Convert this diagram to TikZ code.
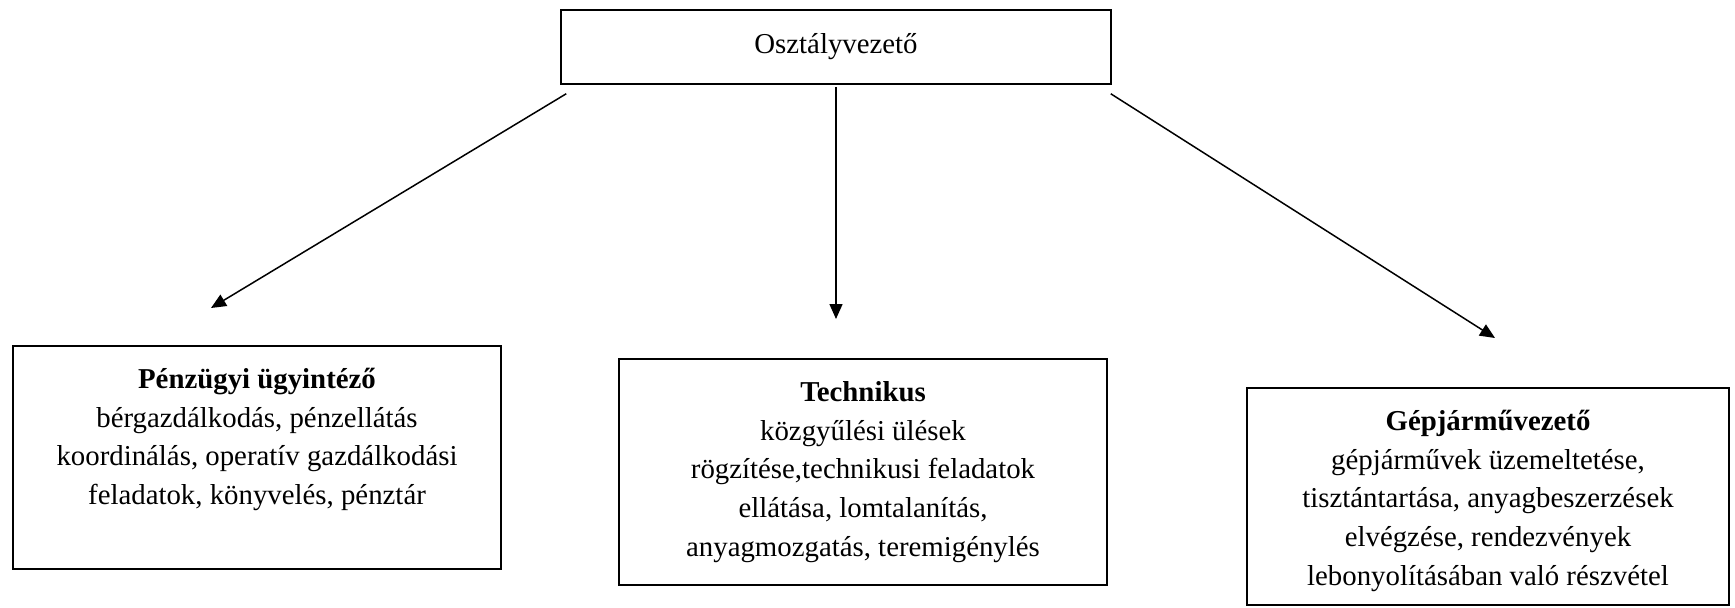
\documentclass[tikz,border=0pt]{standalone}
\usepackage{fontspec}
\setmainfont{Liberation Serif}
\usetikzlibrary{arrows.meta}

\begin{document}
\begin{tikzpicture}[
        box/.style={draw, line width=0.3mm, inner sep=0pt},
        txt/.style={anchor=north, align=center, inner sep=0pt, font=\fontsize{16.4}{22}\selectfont},
        arr/.style={line width=0.3mm, -{Triangle[length=0.3cm, width=0.26cm]}}
    ]
        \useasboundingbox (0.0, 0.0) rectangle (34.7, 12.14);

        \node[box, minimum width=11.0cm, minimum height=1.48cm, font=\fontsize{16.4}{22}\selectfont] (boss) at (16.72, 11.2) {Osztályvezető};

        \node[box, minimum width=9.76cm, minimum height=4.46cm] (finance) at (5.14, 2.99) {};
        \node[box, minimum width=9.76cm, minimum height=4.52cm] (tech) at (17.26, 2.70) {};
        \node[box, minimum width=9.64cm, minimum height=4.34cm] (driver) at (29.76, 2.21) {};

        \node[txt] (financetext) at ([yshift=-0.32cm]finance.north) {\strut\textbf{Pénzügyi ügyintéző}\\ bérgazdálkodás, pénzellátás\\ koordinálás, operatív gazdálkodási\\ feladatok, könyvelés, pénztár};
        \node[txt] (techtext) at ([yshift=-0.32cm]tech.north) {\strut\textbf{Technikus}\\ közgyűlési ülések\\ rögzítése,technikusi feladatok\\ ellátása, lomtalanítás,\\ anyagmozgatás, teremigénylés};
        \node[txt] (drivertext) at ([yshift=-0.32cm]driver.north) {\strut\textbf{Gépjárművezető}\\ gépjárművek üzemeltetése,\\ tisztántartása, anyagbeszerzések\\ elvégzése, rendezvények\\ lebonyolításában való részvétel};

        \coordinate (financetip) at (4.22, 5.98);
        \coordinate (techtip) at (16.72, 5.76);
        \coordinate (drivertip) at (29.9, 5.38);

        \draw[arr] ([xshift=0.12cm, yshift=-0.18cm]boss.south west) -- (financetip);
        \draw[arr] ([yshift=-0.04cm]boss.south) -- (techtip);
        \draw[arr] ([xshift=-0.02cm, yshift=-0.18cm]boss.south east) -- (drivertip);
    \end{tikzpicture}
\end{document}
